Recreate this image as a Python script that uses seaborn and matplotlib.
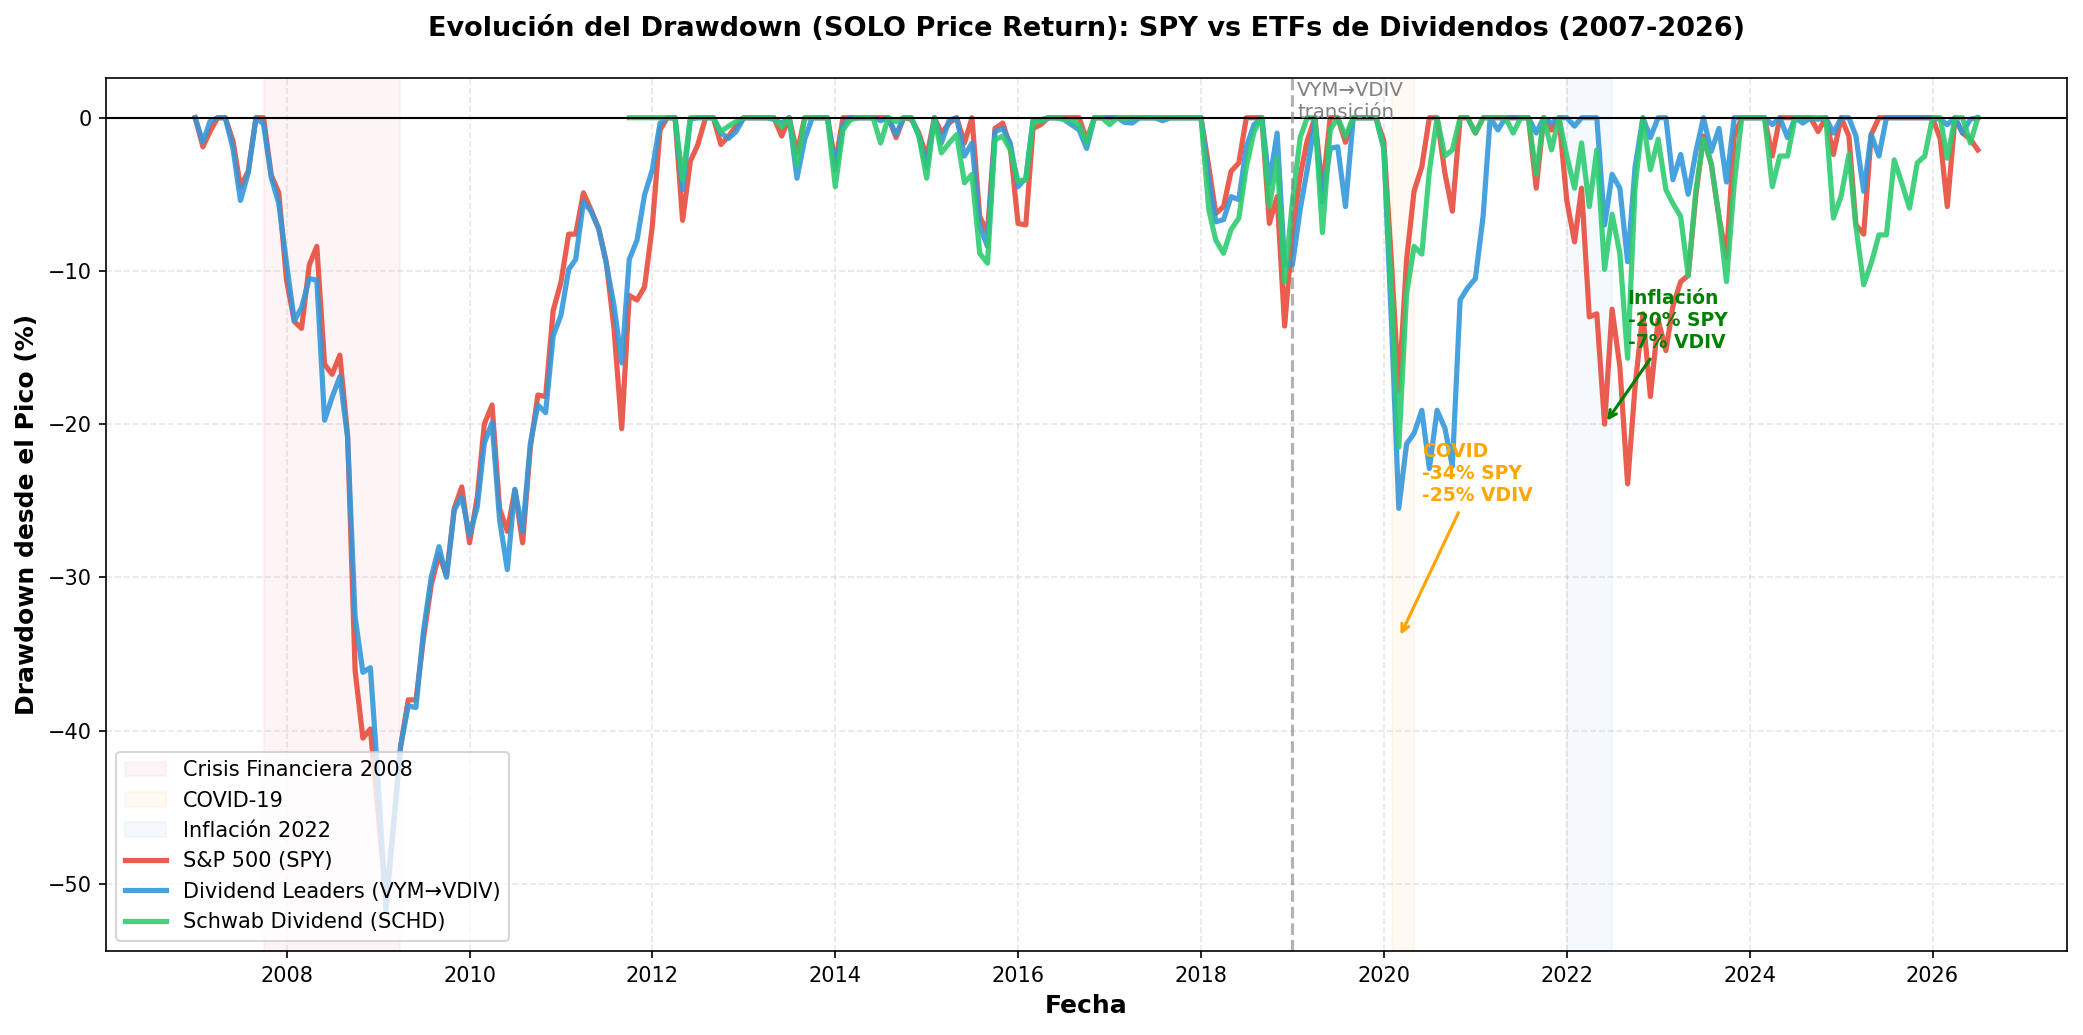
import matplotlib
matplotlib.use('Agg')
import matplotlib.pyplot as plt
import matplotlib.dates as mdates
import numpy as np
import pandas as pd
import seaborn as sns

# Monthly price-only drawdowns (%)
start_date = '2007-01-01'
schd_start = '2011-10-01'

spy_dd = [
    0, -1.9, -0.9, 0, 0, -1.5, -4.5, -3.5, 0, 0, -3.75, -4.9,                         # 2007
    -10.6, -13.3, -13.75, -9.6, -8.4, -16.1, -16.75, -15.5, -20.75, -36.1, -40.5, -39.9,  # 2008
    -45.4, -51.0, -46.6, -41.0, -38.0, -38.0, -34.0, -30.5, -28.5, -29.9, -25.5, -24.1,   # 2009
    -27.75, -24.75, -20.0, -18.75, -25.5, -27.0, -24.3, -27.75, -21.5, -18.1, -18.2, -12.6,  # 2010
    -10.75, -7.6, -7.6, -4.9, -6.0, -7.25, -9.4, -13.75, -20.3, -11.6, -11.9, -11.05,  # 2011
    -7.1, -0.8, 0, 0, -6.7, -2.85, -1.75, 0, 0, -1.75, -1.2, -0.55,                    # 2012
    0, 0, 0, 0, 0, -1.2, 0, -2.3, 0, 0, 0, 0,                                          # 2013
    -3.0, 0, 0, 0, 0, 0, 0, 0, -1.3, 0, -0.1, -1.0,                                    # 2014
    -2.6, 0, -1.0, -0.35, 0, -1.65, 0, -6.45, -7.5, -0.7, -0.35, -1.9,                 # 2015
    -6.9, -7.0, -0.7, -0.45, 0, 0, 0, 0, 0, -1.45, 0, 0,                               # 2016
    0, 0, 0, 0, 0, 0, 0, 0, 0, 0, 0, 0,                                                # 2017
    0, -3.2, -6.25, -5.8, -3.5, -2.95, 0, 0, 0, -6.9, -5.15, -13.6,                    # 2018
    -7.5, -3.8, -1.5, 0, -4.8, 0, 0, -1.6, 0, 0, 0, 0,                                 # 2019
    -1.5, -9.5, -17.8, -9.3, -4.8, -3.2, 0, 0, -3.6, -6.1, 0, 0,                       # 2020
    -1.0, 0, 0, 0, 0, 0, 0, 0, -4.6, 0, -0.8, 0,                                       # 2021
    -5.4, -8.1, -4.6, -13.0, -12.8, -20.0, -12.5, -16.25, -23.9, -17.5, -12.8, -18.2,  # 2022
    -13.2, -15.2, -12.3, -10.7, -10.3, -5.0, -1.2, -3.0, -6.5, -9.1, -1.2, 0,          # 2023
    0, 0, 0, -2.5, 0, 0, 0, 0, 0, -0.9, 0, -2.4,                                       # 2024
    0, -1.2, -7.0, -7.6, -1.1, 0, 0, 0, 0, 0, 0, 0,                                    # 2025
    0, -1.4, -5.8, 0, -1.0, -1.4, -2.1,                                                # 2026
]

vdiv_dd = [
    0, -1.6, -0.25, 0, 0, -2.0, -5.4, -3.6, 0, -0.4, -3.9, -5.6,
    -9.5, -13.25, -12.4, -10.5, -10.6, -19.75, -18.25, -16.9, -20.9, -32.6, -36.2, -35.9,
    -43.3, -51.8, -46.6, -41.0, -38.4, -38.5, -33.5, -30.0, -28.0, -30.0, -25.6, -24.75,
    -27.25, -25.4, -21.25, -19.9, -26.25, -29.5, -24.25, -27.0, -21.25, -18.75, -19.25, -14.25,
    -12.9, -9.9, -9.25, -5.5, -6.1, -7.25, -9.5, -12.25, -16.0, -9.25, -8.0, -5.05,
    -3.4, -0.35, 0, 0, -4.7, -0.1, 0, 0, 0, -1.0, -1.35, -0.9,
    0, 0, 0, 0, -0.1, -0.35, 0, -3.95, -1.4, 0, 0, 0,
    -3.4, -0.5, 0, 0, 0, 0, -0.2, 0, -1.1, 0, 0, -1.2,
    -3.2, 0, -1.65, -0.15, 0, -2.5, -1.65, -7.1, -8.4, -0.9, -0.7, -1.65,
    -4.5, -3.95, -0.15, -0.15, 0, 0, -0.1, -0.45, -0.8, -2.0, 0, 0,
    0, 0, -0.3, -0.35, 0, 0, 0, -0.2, 0, 0, 0, 0,
    0, -4.05, -6.8, -6.65, -5.15, -5.35, -1.9, -0.45, 0, -4.25, -1.0, -9.6,
    -9.6, -6.0, -3.4, -0.2, -5.5, -2.0, -1.9, -5.8, 0, 0, 0, 0,
    -2.0, -13.5, -25.5, -21.3, -20.6, -19.1, -22.9, -19.1, -20.25, -22.75, -11.9, -11.1,
    -10.5, -6.4, 0, -0.8, 0, 0, 0, 0, -1.0, 0, -0.35, 0,
    0, -0.55, 0, 0, 0, -7.0, -3.7, -4.6, -9.4, -3.2, 0, -1.3,
    0, 0, -4.05, -2.4, -5.0, -2.2, 0, -2.2, -0.7, -4.2, 0, 0,
    0, 0, 0, -0.45, 0, -1.3, 0, -0.35, 0, -0.1, 0, -1.0,
    0, 0, -1.2, -4.8, -1.1, -2.5, 0, 0, 0, 0, 0, 0,
    0, -0.1, -0.45, 0, -1.0, -0.1, 0,
]

schd_dd = [
    0, 0, 0,                                                                            # 2011 (Oct-Dec)
    0, 0, 0, 0, -4.05, 0, 0, 0, 0, -0.9, -0.55, -0.25,
    0, 0, 0, 0, 0, -0.6, 0, -3.1, 0, 0, 0, 0,
    -4.5, -0.8, -0.15, 0, 0, 0, -1.65, 0, -0.25, 0, 0, -1.2,
    -3.95, 0, -2.3, -1.65, -1.1, -4.25, -3.7, -8.85, -9.5, -1.45, -1.2, -2.1,
    -4.15, -4.05, -0.25, -0.25, 0, 0, -0.1, -0.2, -0.45, -1.65, 0, 0,
    -0.45, 0, -0.1, 0, 0, 0, 0, 0, 0, 0, 0, 0,
    0, -6.0, -8.0, -8.85, -7.3, -6.55, -3.2, -0.9, 0, -5.8, -2.65, -10.7,
    -5.5, -1.3, 0, 0, -7.5, -0.8, 0, -1.2, 0, 0, 0, 0,
    -2.0, -11.5, -21.5, -11.5, -8.4, -8.9, -3.5, 0, -2.5, -2.1, 0, 0,
    -1.0, 0, 0, 0, 0, -1.0, 0, 0, -3.7, 0, -2.1, 0,
    -2.5, -4.6, -1.65, -5.8, -2.1, -9.9, -6.3, -8.85, -15.7, -4.5, 0, -3.4,
    -1.4, -4.7, -5.6, -6.45, -10.3, -4.7, -1.4, -3.0, -6.45, -10.7, -4.3, 0,
    0, 0, 0, -4.5, -2.5, -2.5, 0, 0, 0, 0, 0, -6.55,
    -5.1, -2.4, -7.1, -10.9, -9.5, -7.65, -7.65, -2.75, -4.3, -5.9, -2.95, -2.5,
    0, 0, -2.65, 0, 0, -1.65, 0,
]

series_labels = ['S&P 500 (SPY)', 'Dividend Leaders (VYM→VDIV)', 'Schwab Dividend (SCHD)']
series_colors = ['#e74c3c', '#3498db', '#2ecc71']

periods = [
    ('2007-10-01', '2009-03-31', '#e74c3c', 'Crisis Financiera 2008'),
    ('2020-02-01', '2020-04-30', '#f39c12', 'COVID-19'),
    ('2022-01-01', '2022-06-30', '#3498db', 'Inflación 2022'),
]

dates = pd.date_range(start_date, periods=len(spy_dd), freq='MS')
schd_dates = pd.date_range(schd_start, periods=len(schd_dd), freq='MS')

fig = plt.figure(figsize=(2083 / 150, 1035 / 150), dpi=150)
ax = fig.add_subplot(111)
fig.subplots_adjust(left=0.0509, right=0.9923, top=0.9246, bottom=0.0812)

for p_start, p_end, p_color, p_label in periods:
    ax.axvspan(pd.Timestamp(p_start), pd.Timestamp(p_end), color=p_color, alpha=0.05, label=p_label)

sns.lineplot(x=dates, y=spy_dd, ax=ax, color=series_colors[0], linewidth=2.5, alpha=0.9,
             label=series_labels[0])
sns.lineplot(x=dates, y=vdiv_dd, ax=ax, color=series_colors[1], linewidth=2.5, alpha=0.9,
             label=series_labels[1])
sns.lineplot(x=schd_dates, y=schd_dd, ax=ax, color=series_colors[2], linewidth=2.5, alpha=0.9,
             label=series_labels[2])

ax.axhline(0, color='black', linewidth=1)
ax.axvline(pd.Timestamp('2019-01-01'), color='gray', linestyle='--', linewidth=1.5, alpha=0.6)
ax.text(pd.Timestamp('2019-01-20'), 2.4, 'VYM→VDIV\ntransición', fontsize=9.5, color='gray',
        ha='left', va='top')

ax.annotate('COVID\n-34% SPY\n-25% VDIV', xy=(pd.Timestamp('2020-03-01'), -34),
            xytext=(pd.Timestamp('2020-06-01'), -25), fontsize=9, fontweight='bold',
            color='orange', arrowprops=dict(arrowstyle='->', color='orange', lw=1.5))
ax.annotate('Inflación\n-20% SPY\n-7% VDIV', xy=(pd.Timestamp('2022-06-01'), -20),
            xytext=(pd.Timestamp('2022-09-01'), -15), fontsize=9, fontweight='bold',
            color='green', arrowprops=dict(arrowstyle='->', color='green', lw=1.5))

ax.set_title('Evolución del Drawdown (SOLO Price Return): SPY vs ETFs de Dividendos (2007-2026)',
             fontsize=13, fontweight='bold', pad=20)
ax.set_xlabel('Fecha', fontsize=12, fontweight='bold')
ax.set_ylabel('Drawdown desde el Pico (%)', fontsize=12, fontweight='bold')
ax.xaxis.set_major_locator(mdates.YearLocator(2))
ax.xaxis.set_major_formatter(mdates.DateFormatter('%Y'))
ax.grid(True, alpha=0.3, linestyle='--')
ax.legend(loc='lower left', fontsize=10)

fig.savefig('out.png', dpi=150)
